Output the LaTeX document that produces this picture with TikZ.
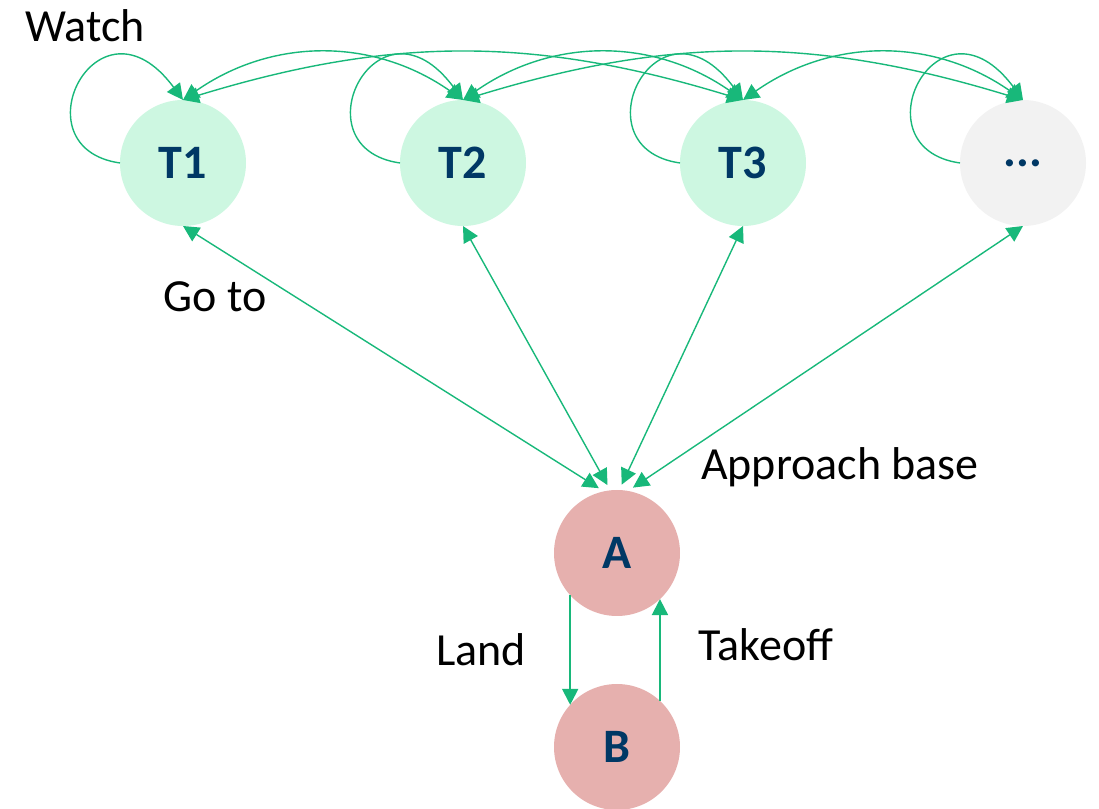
\documentclass[tikz,border=0pt]{standalone}
\usepackage{fontspec}
\setmainfont{Carlito}
\usetikzlibrary{positioning,arrows.meta}

\definecolor{taskfill}{RGB}{205,247,225}
\definecolor{dotsfill}{RGB}{242,242,242}
\definecolor{basefill}{RGB}{230,176,174}
\definecolor{navy}{RGB}{0,56,101}
\definecolor{linkgreen}{RGB}{24,184,122}

\tikzset{
    task/.style={circle, fill=taskfill, minimum size=63pt, inner sep=0pt, outer sep=0pt,
        text=navy, font=\fontsize{24}{28}\selectfont\bfseries},
    base/.style={task, fill=basefill},
    link/.style={draw=linkgreen, line width=0.7pt},
    lbl/.style={anchor=base, inner sep=0pt, font=\fontsize{23}{27}\selectfont}
}

\begin{document}
\begin{tikzpicture}[x=0.5pt, y=0.5pt, node distance=77pt, >={Triangle[length=8pt,width=8pt]}]
    \useasboundingbox (0,0) rectangle (1099,809);

    \node[task] (T1) at (183,646) {T1};
    \node[task, right=of T1] (T2) {T2};
    \node[task, right=of T2] (T3) {T3};
    \node[task, fill=dotsfill, right=of T3] (T4) {...};
    \node[base] (A) at (617,256) {A};
    \node[base, below=34pt of A] (B) {B};

    \node[lbl] (watch) at (85,767) {Watch};
    \node[lbl] (goto) at (215,497) {Go to};
    \node[lbl] (approach) at (840,329) {Approach base};
    \node[lbl] (land) at (481,143) {Land};
    \node[lbl] (takeoff) at (766,148) {Takeoff};

    % watch loops
    \foreach \t in {T1,T2,T3,T4}
        \draw[link, ->] (\t.west) .. controls +(-105,15) and +(-85,115) .. (\t.north);

    % moves between targets
    \draw[link, <->] (T1.north) to[bend left=35] (T2.north);
    \draw[link, <->] (T2.north) to[bend left=35] (T3.north);
    \draw[link, <->] (T3.north) to[bend left=35] (T4.north);
    \draw[link, <->] (T1.north) to[bend left=17] (T3.north);
    \draw[link, <->] (T2.north) to[bend left=17] (T4.north);

    % go to / approach base
    \draw[link, <->, shorten >=3pt] (T1.south) -- (A.102);
    \draw[link, <->, shorten >=3pt] (T2.south) -- (A.96);
    \draw[link, <->, shorten >=3pt] (T3.south) -- (A.88);
    \draw[link, <->, shorten >=3pt] (T4.south) -- (A.80);

    % land / takeoff
    \draw[link, ->, line width=1pt] (A.222) -- (B.138);
    \draw[link, ->, line width=1pt] (B.47) -- (A.313);
\end{tikzpicture}
\end{document}
